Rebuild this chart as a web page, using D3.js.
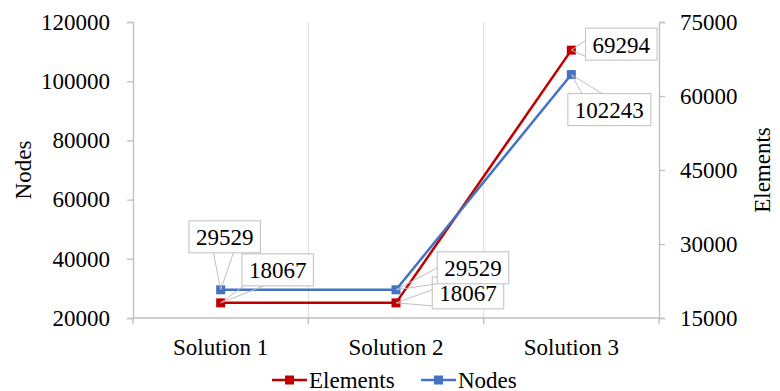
<!DOCTYPE html>
<html>
<head>
<meta charset="utf-8">
<script src="https://cdn.jsdelivr.net/npm/d3@7/dist/d3.min.js"></script>
<style>
  html, body { margin: 0; padding: 0; background: #fff; }
  svg { display: block; font-family: "Liberation Serif", "Times New Roman", serif; }
</style>
</head>
<body>
<svg id="chart" width="780" height="391"></svg>
<script>
// Mesh size per solution
const categories = ["Solution 1", "Solution 2", "Solution 3"];
const elements = [18067, 18067, 69294];   // right axis
const nodes = [29529, 29529, 102243];     // left axis
const nodeTicks = [20000, 40000, 60000, 80000, 100000, 120000];
const elementTicks = [15000, 30000, 45000, 60000, 75000];

// Callout placement (box centre offset from its point)
const elementLabelOffsets = [[57, -33], [72, -10], [50, -6]];
const nodeLabelOffsets = [[4, -53], [77, -22], [38, 35]];

const RED = "#C00000", BLUE = "#4472C4", AXIS = "#BFBFBF", GRID = "#D9D9D9";
const svg = d3.select("#chart");
const plotLeft = 133, plotRight = 659, plotTop = 22, plotBottom = 318;

const x = d3.scaleBand().domain(categories).range([plotLeft, plotRight]);
const yL = d3.scaleLinear().domain([20000, 120000]).range([plotBottom, plotTop]);
const yR = d3.scaleLinear().domain([15000, 75000]).range([plotBottom, plotTop]);
const cx = c => x(c) + x.bandwidth() / 2;

// Vertical gridlines between categories
const bounds = categories.slice(1).map(c => x(c));
svg.append("g").selectAll("line").data(bounds).join("line")
  .attr("x1", d => d).attr("x2", d => d).attr("y1", plotTop).attr("y2", plotBottom)
  .attr("stroke", GRID).attr("stroke-width", 1);

// Axes
function styleAxis(g) {
  g.select(".domain").attr("stroke", AXIS).attr("stroke-width", 1.3);
  g.selectAll(".tick line").attr("stroke", AXIS).attr("stroke-width", 1.3);
  g.selectAll(".tick text").attr("fill", "#000").style("font-size", "23px")
    .style("font-family", "Liberation Serif, serif");
}
svg.append("g").attr("transform", `translate(${plotLeft},0)`)
  .call(d3.axisLeft(yL).tickValues(nodeTicks).tickFormat(d3.format("d")).tickSizeOuter(0).tickSize(6).tickPadding(17))
  .call(styleAxis);
svg.append("g").attr("transform", `translate(${plotRight},0)`)
  .call(d3.axisRight(yR).tickValues(elementTicks).tickFormat(d3.format("d")).tickSizeOuter(0).tickSize(6).tickPadding(15))
  .call(styleAxis);

// Category axis with ticks at band boundaries
const xAxis = svg.append("g").attr("transform", `translate(0,${plotBottom})`);
xAxis.append("line").attr("x1", plotLeft).attr("x2", plotRight).attr("y1", 0).attr("y2", 0)
  .attr("stroke", AXIS).attr("stroke-width", 1.3);
xAxis.selectAll("line.t").data([plotLeft, ...bounds, plotRight]).join("line").attr("class", "t")
  .attr("x1", d => d).attr("x2", d => d).attr("y1", 0).attr("y2", 6)
  .attr("stroke", AXIS).attr("stroke-width", 1.3);
xAxis.selectAll("text").data(categories).join("text")
  .attr("x", d => cx(d)).attr("y", 37).attr("text-anchor", "middle")
  .style("font-size", "23px").text(d => d);

// Axis titles
svg.append("text").attr("transform", `translate(31,${(plotTop + plotBottom) / 2}) rotate(-90)`)
  .attr("text-anchor", "middle").style("font-size", "23px").text("Nodes");
svg.append("text").attr("transform", `translate(770,${(plotTop + plotBottom) / 2}) rotate(-90)`)
  .attr("text-anchor", "middle").style("font-size", "23px").text("Elements");

// Series
const series = [
  { name: "Elements", values: elements, y: yR, color: RED, offsets: elementLabelOffsets },
  { name: "Nodes", values: nodes, y: yL, color: BLUE, offsets: nodeLabelOffsets }
];
series.forEach(s => {
  const pts = s.values.map((v, i) => [cx(categories[i]), s.y(v)]);
  svg.append("path").attr("d", d3.line()(pts)).attr("fill", "none")
    .attr("stroke", s.color).attr("stroke-width", 2.5);
  svg.append("g").selectAll("rect").data(pts).join("rect")
    .attr("x", d => d[0] - 4.5).attr("y", d => d[1] - 4.5)
    .attr("width", 9).attr("height", 9).attr("fill", s.color);
  s.pts = pts;
});

// Callout labels
function callout(p, off, text) {
  const g = svg.append("g");
  const t = g.append("text").attr("text-anchor", "middle").attr("dominant-baseline", "central")
    .style("font-size", "23px").text(text);
  const cxb = p[0] + off[0], cyb = p[1] + off[1];
  t.attr("x", cxb).attr("y", cyb + 1);
  const tw = t.node().getComputedTextLength();
  const w = tw + 14, h = 32;
  const bx = cxb - w / 2, by = cyb - h / 2;
  // wedge base on the box edge facing the point
  const dx = p[0] - cxb, dy = p[1] - cyb;
  let base;
  const sx = Math.abs(dx) / (w / 2), sy = Math.abs(dy) / (h / 2);
  if (sy >= sx) {
    const ey = dy > 0 ? by + h : by;
    const ix = Math.max(bx + 12, Math.min(bx + w - 12, cxb + dx * (h / 2) / Math.abs(dy)));
    base = [[ix - 10, ey], [ix + 10, ey]];
  } else {
    const ex = dx > 0 ? bx + w : bx;
    const iy = Math.max(by + 8, Math.min(by + h - 8, cyb + dy * (w / 2) / Math.abs(dx)));
    base = [[ex, iy - 8], [ex, iy + 8]];
  }
  g.insert("path", "text").attr("d", `M${base[0]}L${p}L${base[1]}`)
    .attr("fill", "none").attr("stroke", AXIS).attr("stroke-width", 1);
  g.insert("rect", "text").attr("x", bx).attr("y", by).attr("width", w).attr("height", h)
    .attr("fill", "#fff").attr("stroke", AXIS).attr("stroke-width", 1);
}
series.forEach(s => s.pts.forEach((p, i) => callout(p, s.offsets[i], d3.format("d")(s.values[i]))));

// Legend
const legend = svg.append("g").attr("transform", "translate(0,380)");
const legendItems = [{ name: "Elements", color: RED, x: 272 }, { name: "Nodes", color: BLUE, x: 421 }];
legendItems.forEach(d => {
  legend.append("line").attr("x1", d.x).attr("x2", d.x + 35).attr("stroke", d.color).attr("stroke-width", 2.5);
  legend.append("rect").attr("x", d.x + 13).attr("y", -4.5).attr("width", 9).attr("height", 9).attr("fill", d.color);
  legend.append("text").attr("x", d.x + 37).attr("y", 7.5).style("font-size", "23px").text(d.name);
});
</script>
</body>
</html>
